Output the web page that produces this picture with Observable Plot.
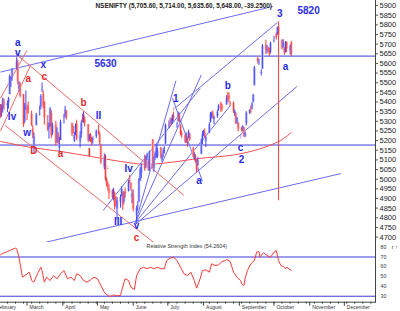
<!DOCTYPE html>
<html><head><meta charset="utf-8">
<script src="https://cdn.jsdelivr.net/npm/d3@7"></script>
<script src="https://cdn.jsdelivr.net/npm/@observablehq/plot@0.6"></script>
<style>
body{margin:0;background:#fff}
#wrap{position:relative;width:400px;height:311px;overflow:hidden;background:#fff}
#wrap svg{position:absolute;left:0}
</style></head><body><div id="wrap"></div>
<script>
// ---------- price data (NSE Nifty, daily) ----------
const days = [
"2012-02-06","2012-02-07","2012-02-08","2012-02-09","2012-02-10","2012-02-13","2012-02-14","2012-02-15","2012-02-16","2012-02-17","2012-02-21","2012-02-22","2012-02-23","2012-02-24","2012-02-27","2012-02-28","2012-02-29",
"2012-03-01","2012-03-02","2012-03-05","2012-03-06","2012-03-07","2012-03-09","2012-03-12","2012-03-13","2012-03-14","2012-03-15","2012-03-16","2012-03-19","2012-03-20","2012-03-21","2012-03-22","2012-03-23","2012-03-26","2012-03-27","2012-03-28","2012-03-29","2012-03-30",
"2012-04-02","2012-04-03","2012-04-04","2012-04-09","2012-04-10","2012-04-11","2012-04-12","2012-04-13","2012-04-16","2012-04-17","2012-04-18","2012-04-19","2012-04-20","2012-04-23","2012-04-24","2012-04-25","2012-04-26","2012-04-27","2012-04-30",
"2012-05-02","2012-05-03","2012-05-04","2012-05-07","2012-05-08","2012-05-09","2012-05-10","2012-05-11","2012-05-14","2012-05-15","2012-05-16","2012-05-17","2012-05-18","2012-05-21","2012-05-22","2012-05-23","2012-05-24","2012-05-25","2012-05-28","2012-05-29","2012-05-30","2012-05-31",
"2012-06-01","2012-06-04","2012-06-05","2012-06-06","2012-06-07","2012-06-08","2012-06-11","2012-06-12","2012-06-13","2012-06-14","2012-06-15","2012-06-18","2012-06-19","2012-06-20","2012-06-21","2012-06-22","2012-06-25","2012-06-26","2012-06-27","2012-06-28","2012-06-29",
"2012-07-02","2012-07-03","2012-07-04","2012-07-05","2012-07-06","2012-07-09","2012-07-10","2012-07-11","2012-07-12","2012-07-13","2012-07-16","2012-07-17","2012-07-18","2012-07-19","2012-07-20","2012-07-23","2012-07-24","2012-07-25","2012-07-26","2012-07-27","2012-07-30","2012-07-31",
"2012-08-01","2012-08-02","2012-08-03","2012-08-06","2012-08-07","2012-08-08","2012-08-09","2012-08-10","2012-08-13","2012-08-14","2012-08-16","2012-08-17","2012-08-21","2012-08-22","2012-08-23","2012-08-24","2012-08-27","2012-08-28","2012-08-29","2012-08-30","2012-08-31",
"2012-09-03","2012-09-04","2012-09-05","2012-09-06","2012-09-07","2012-09-10","2012-09-11","2012-09-12","2012-09-13","2012-09-14","2012-09-17","2012-09-18","2012-09-20","2012-09-21","2012-09-24","2012-09-25","2012-09-26","2012-09-27","2012-09-28",
"2012-10-01","2012-10-03","2012-10-04","2012-10-05","2012-10-08","2012-10-09","2012-10-10","2012-10-11","2012-10-12","2012-10-15","2012-10-16"];
const opens = [
5325,5370,5354,5363,5399,5382,5395,5438,5516,5540,5566,5600,5470,5498,5439,5300,5385,
5361,5373,5335,5260,5170,5277,5357,5372,5461,5440,5399,5290,5260,5275,5340,5235,5281,5203,5230,5160,5200,
5317,5325,5355,5290,5248,5198,5230,5287,5194,5231,5310,5300,5307,5283,5211,5229,5204,5201,5220,
5251,5233,5171,5060,5116,4995,4976,4947,4939,4900,4918,4879,4845,4880,4926,4930,4885,4933,4937,4995,4979,4905,
4917,4810,4859,4883,4988,5028,5104,5065,5109,5090,5040,5205,5054,5112,5118,5115,5161,5096,5130,5148,5181,
5276,5290,5297,5304,5327,5274,5298,5332,5278,5240,5226,5188,5210,5212,5232,5160,5109,5117,5101,5070,5130,5200,
5232,5240,5194,5240,5295,5326,5341,5308,5325,5360,5395,5376,5386,5424,5432,5390,5394,5340,5339,5290,5291,
5261,5253,5266,5222,5286,5342,5369,5370,5400,5484,5624,5598,5547,5570,5693,5668,5667,5663,5659,
5716,5750,5752,5789,5720,5684,5680,5664,5710,5667,5706];
const highs = [
5414,5387,5385,5420,5416,5405,5424,5541,5532,5574,5630,5618,5506,5500,5439,5392,5458,
5384,5400,5353,5279,5240,5341,5379,5438,5499,5458,5402,5330,5290,5371,5354,5290,5300,5266,5240,5217,5306,
5335,5378,5355,5290,5275,5242,5286,5306,5245,5302,5337,5349,5323,5283,5232,5236,5217,5219,5255,
5279,5243,5182,5131,5126,5009,4986,4970,4946,4953,4932,4911,4905,4919,4961,4935,4935,4954,4994,5020,4980,4946,
4944,4860,4883,5005,5059,5078,5125,5120,5135,5100,5146,5205,5116,5142,5180,5160,5164,5130,5160,5168,5286,
5302,5317,5314,5334,5348,5294,5348,5340,5282,5249,5230,5240,5218,5254,5238,5166,5137,5126,5102,5112,5208,5248,
5254,5260,5223,5292,5346,5348,5354,5328,5358,5385,5399,5386,5433,5448,5448,5402,5400,5359,5345,5320,5293,
5269,5277,5268,5244,5350,5360,5378,5397,5440,5585,5632,5621,5567,5698,5720,5694,5684,5679,5710,
5741,5758,5788,5815,5722,5723,5680,5713,5711,5696,5714];
const lows = [
5325,5316,5322,5342,5357,5345,5363,5438,5476,5507,5565,5488,5453,5421,5268,5290,5358,
5304,5337,5273,5210,5135,5277,5327,5360,5450,5365,5280,5246,5208,5270,5210,5225,5172,5185,5180,5135,5200,
5286,5316,5306,5220,5236,5190,5225,5200,5162,5212,5290,5290,5270,5189,5195,5190,5172,5181,5211,
5229,5176,5075,5048,4989,4959,4940,4895,4895,4887,4840,4856,4788,4850,4908,4838,4871,4901,4934,4976,4939,4872,
4830,4770,4835,4878,4988,5004,5041,5055,5097,5044,5040,5054,5034,5098,5108,5106,5105,5086,5112,5132,5181,
5261,5269,5282,5285,5300,5264,5296,5291,5225,5212,5185,5186,5165,5210,5195,5111,5100,5085,5032,5065,5127,5179,
5222,5210,5164,5236,5290,5313,5312,5282,5315,5352,5345,5351,5383,5400,5395,5375,5340,5325,5283,5285,5245,
5245,5245,5216,5215,5276,5335,5340,5358,5395,5484,5597,5589,5535,5570,5646,5650,5658,5635,5649,
5706,5721,5745,4888,5669,5678,5641,5654,5656,5643,5636];
const closes = [
5361,5335,5368,5412,5381,5390,5416,5532,5521,5564,5607,5505,5483,5429,5281,5375,5385,
5339,5359,5280,5222,5220,5333,5359,5429,5463,5380,5317,5257,5274,5364,5228,5278,5184,5243,5194,5178,5295,
5318,5358,5322,5234,5243,5227,5276,5207,5226,5289,5300,5332,5290,5200,5222,5202,5189,5209,5248,
5239,5188,5087,5114,4999,4974,4965,4928,4907,4942,4858,4870,4891,4906,4947,4861,4921,4920,4985,4990,4950,4924,
4842,4848,4863,4997,5049,5068,5054,5115,5121,5054,5139,5064,5103,5120,5165,5146,5114,5121,5149,5149,5279,
5278,5287,5302,5327,5316,5275,5345,5306,5236,5227,5197,5216,5192,5242,5205,5117,5128,5110,5043,5100,5199,5229,
5240,5227,5215,5282,5336,5338,5322,5320,5347,5380,5362,5366,5421,5413,5415,5386,5350,5350,5287,5315,5258,
5254,5274,5225,5238,5342,5358,5363,5390,5435,5577,5610,5600,5554,5691,5669,5673,5663,5649,5703,
5718,5731,5787,5747,5676,5705,5652,5708,5676,5687,5648];

// moving average (red curve)
const maDates  = ["2012-02-07","2012-03-04","2012-03-30","2012-04-25","2012-05-21","2012-06-12","2012-07-03","2012-07-29","2012-08-24","2012-09-11","2012-09-25","2012-10-07","2012-10-16"];
const maValues = [5196,5165,5144,5118,5092,5077,5087,5108,5123,5144,5170,5201,5242];

// horizontal levels
const levels = [5638, 5177];

// trend lines [start date, start price, end date, end price]
const blueTrend = [
  ["2012-02-07",5555,"2012-09-30",5895],
  ["2012-03-17",4673,"2012-11-28",5029],
  ["2012-06-03",4766,"2012-10-21",5481],
  ["2012-06-03",4776,"2012-07-08",5510],
  ["2012-06-03",4776,"2012-07-30",5540],
  ["2012-06-03",4776,"2012-08-24",5380],
  ["2012-05-06",4838,"2012-07-29",5470],
  ["2012-07-07",5367,"2012-10-04",5812],
  ["2012-07-05",5420,"2012-07-31",4990]
];
const redTrend = [
  ["2012-02-20",5651,"2012-07-15",4916],
  ["2012-02-11",5279,"2012-06-22",4657],
  ["2012-02-07",5420,"2012-03-01",5668],
  ["2012-02-07",5250,"2012-03-04",5590]
];

// wave labels
const blueText  = ["a","v","x","5630","II","Iv","w","Iv","III","v","1","a","b","c","2","3","5820","a"];
const blueDates = ["2012-02-22","2012-02-22","2012-03-15","2012-05-08","2012-05-02","2012-02-17","2012-03-01","2012-05-28","2012-05-19","2012-06-04","2012-07-08","2012-07-28","2012-08-22","2012-09-02","2012-09-03","2012-10-06","2012-10-31","2012-10-11"];
const bluePrices= [5708,5657,5593,5600,5330,5322,5241,5056,4778,4756,5417,4994,5486,5165,5103,5857,5871,5581];
const redText   = ["a","c","b","D","a","I","c"];
const redDates  = ["2012-03-02","2012-03-16","2012-04-19","2012-03-07","2012-03-30","2012-04-24","2012-06-04"];
const redPrices = [5520,5529,5394,5149,5132,5135,4697];
// small pivot arrows
const upArrowDates  = ["2012-07-27","2012-09-02"];
const upArrowPrices = [5052,5218];
const dnArrowDates  = ["2012-07-06","2012-05-10"];
const dnArrowPrices = [5367,5066];

// RSI
const rsiDates = ["2012-02-07","2012-02-10","2012-02-13","2012-02-17","2012-02-20","2012-02-21","2012-02-23","2012-02-26","2012-02-29","2012-03-03","2012-03-05","2012-03-07","2012-03-10","2012-03-13","2012-03-14","2012-03-16","2012-03-18","2012-03-21","2012-03-24","2012-03-27","2012-03-30","2012-04-02","2012-04-05","2012-04-08","2012-04-11","2012-04-13","2012-04-16","2012-04-19","2012-04-22","2012-04-25","2012-04-28","2012-05-01","2012-05-04","2012-05-07","2012-05-09","2012-05-12","2012-05-15","2012-05-18","2012-05-21","2012-05-22","2012-05-25","2012-05-28","2012-05-30","2012-06-02","2012-06-04","2012-06-07","2012-06-10","2012-06-13","2012-06-16","2012-06-19","2012-06-22","2012-06-25","2012-06-28","2012-06-30","2012-07-03","2012-07-06","2012-07-09","2012-07-12","2012-07-15","2012-07-18","2012-07-21","2012-07-24","2012-07-26","2012-07-29","2012-07-31","2012-08-03","2012-08-06","2012-08-08","2012-08-11","2012-08-14","2012-08-17","2012-08-20","2012-08-21","2012-08-24","2012-08-27","2012-08-30","2012-09-02","2012-09-03","2012-09-05","2012-09-06","2012-09-08","2012-09-11","2012-09-14","2012-09-16","2012-09-18","2012-09-19","2012-09-21","2012-09-22","2012-09-25","2012-09-28","2012-10-01","2012-10-03","2012-10-05","2012-10-07","2012-10-10","2012-10-11","2012-10-12","2012-10-16"];
const rsiValues = [72.2,74.3,75.6,77.7,79.0,78.4,69.8,49.4,51.8,54.5,46.0,44.3,52.9,59.6,56.2,44.3,49.4,46.0,51.1,47.8,52.9,56.2,47.8,49.4,46.0,52.9,51.1,46.0,44.3,46.7,49.4,47.8,40.9,34.1,31.4,29.7,31.4,30.4,30.7,35.8,47.8,46.0,39.2,36.8,51.1,58.0,59.6,58.0,59.6,58.0,59.6,58.0,58.0,66.4,68.8,69.8,66.4,59.6,52.9,51.1,54.5,46.0,38.2,47.8,56.2,56.9,54.5,63.1,61.3,62.0,65.4,66.4,67.4,65.4,54.5,49.4,46.0,42.7,40.9,48.4,56.2,63.1,66.4,74.9,75.6,69.8,73.3,74.3,71.5,69.8,74.9,76.6,66.4,61.3,59.6,58.0,59.6,56.2];
const rsiLevels = [70, 30];

// axis labels
const priceTicks = d3.range(4700, 5901, 50);
const rsiTicks = [30, 40, 50, 60, 70, 80];
const monthNames = ["February","March","April","May","June","July","August","September","October","November","December"];
const monthStarts = ["2012-02-01","2012-03-01","2012-04-01","2012-05-01","2012-06-01","2012-07-01","2012-08-01","2012-09-01","2012-10-01","2012-11-01","2012-12-01"];
const header = "NSENIFTY (5,705.60, 5,714.00, 5,635.60, 5,648.00, -39.2500)";
const rsiTitle = "Relative Strength Index (54.2604)";

// ---------- build ----------
const P = d => new Date(d + "T00:00Z");
const xDomain = [P("2012-02-07"), P("2012-12-28")];
const FONT = "'Liberation Sans', Arial, sans-serif";
const BLUE_T = "#2b2be6", RED_T = "#e62a2a";

const bars = days.map((d, i) => ({date: P(d), o: opens[i], h: highs[i], l: lows[i], c: closes[i], up: closes[i] >= opens[i]}));
const ma = maDates.map((d, i) => ({date: P(d), v: maValues[i]}));
const toLines = arr => arr.map(r => ({x1: P(r[0]), y1: r[1], x2: P(r[2]), y2: r[3]}));
const blueLab = blueText.map((t, i) => ({t, date: P(blueDates[i]), p: bluePrices[i]}));
const redLab = redText.map((t, i) => ({t, date: P(redDates[i]), p: redPrices[i]}));
const upArrows = upArrowDates.map((d, i) => ({date: P(d), p: upArrowPrices[i]}));
const dnArrows = dnArrowDates.map((d, i) => ({date: P(d), p: dnArrowPrices[i]}));
const rsi = rsiDates.map((d, i) => ({date: P(d), r: rsiValues[i]}));
const months = monthStarts.map((d, i) => ({date: P(d), name: monthNames[i]}));
const monthTicks = months.map(m => m.date).filter(d => d >= xDomain[0] && d <= xDomain[1]);
const weekTicks = d3.utcMonday.range(P("2012-02-07"), P("2012-12-28"));
const blank = () => "";

const main = Plot.plot({
  width: 400, height: 242,
  marginTop: 0, marginBottom: 0, marginLeft: 0, marginRight: 25,
  x: {type: "utc", domain: xDomain, axis: null},
  y: {domain: [4672, 5926], axis: null},
  style: {fontFamily: FONT, background: "transparent"},
  marks: [
    Plot.ruleY(levels, {stroke: "#3a3ad8", strokeWidth: 1}),
    Plot.link(toLines(blueTrend), {x1: "x1", y1: "y1", x2: "x2", y2: "y2", stroke: "#6b6bf0", strokeWidth: 1, clip: true}),
    Plot.link(toLines(redTrend), {x1: "x1", y1: "y1", x2: "x2", y2: "y2", stroke: "#f06a6a", strokeWidth: 1, clip: true}),
    Plot.line(ma, {x: "date", y: "v", stroke: "#f05050", strokeWidth: 1, curve: "catmull-rom"}),
    Plot.ruleX(bars, {x: "date", y1: "o", y2: "c", stroke: d => d.up ? "#b8bcff" : "#ffb8b8", strokeWidth: 2.6}),
    Plot.ruleX(bars, {x: "date", y1: "l", y2: "h", stroke: d => d.up ? "#4646ff" : "#ff3a3a", strokeWidth: 1}),
    Plot.text(upArrows, {x: "date", y: "p", text: () => "↑", fill: BLUE_T, fontSize: 6.5, fontWeight: "bold"}),
    Plot.text(dnArrows, {x: "date", y: "p", text: () => "↓", fill: RED_T, fontSize: 6.5, fontWeight: "bold"}),
    Plot.text(blueLab, {x: "date", y: "p", text: "t", fill: BLUE_T, fontSize: 10, fontWeight: "bold"}),
    Plot.text(redLab, {x: "date", y: "p", text: "t", fill: RED_T, fontSize: 10, fontWeight: "bold"}),
    Plot.text([header], {frameAnchor: "top-left", dx: 95, dy: 5.3, lineAnchor: "middle", textAnchor: "start", fontSize: 6.4, fontWeight: "bold", fill: "#222"}),
    Plot.axisY(priceTicks, {anchor: "right", tickSize: 2, tickPadding: 2, fontSize: 7.5, fill: "#222", stroke: "#555", tickFormat: d => String(d)}),
    Plot.frame({anchor: "right", stroke: "#444"}),
    Plot.frame({anchor: "bottom", stroke: "#444"})
  ]
});
main.style.top = "0px";

const lower = Plot.plot({
  width: 400, height: 69,
  marginTop: 0, marginBottom: 9.3, marginLeft: 0, marginRight: 25,
  x: {type: "utc", domain: xDomain, axis: null},
  y: {domain: [23.9, 84.8], axis: null},
  style: {fontFamily: FONT, background: "transparent"},
  marks: [
    Plot.ruleY(rsiLevels, {stroke: "#3a3ad8", strokeWidth: 1}),
    Plot.line(rsi, {x: "date", y: "r", stroke: "#ff3a3a", strokeWidth: 1}),
    Plot.text([rsiTitle], {frameAnchor: "top-left", dx: 146, dy: 3.6, lineAnchor: "middle", textAnchor: "start", fontSize: 5.4, fill: "#333"}),
    Plot.axisY(rsiTicks, {anchor: "right", tickSize: 0, tickPadding: 5, fontSize: 5.2, fill: "#333", tickFormat: d => String(d)}),
    Plot.axisX(weekTicks, {anchor: "bottom", tickSize: 2, tickFormat: blank, stroke: "#444"}),
    Plot.axisX(monthTicks, {anchor: "bottom", tickSize: 4, tickFormat: blank, stroke: "#444"}),
    Plot.text(months, {x: "date", text: "name", frameAnchor: "bottom", dy: 5.2, dx: 2.5, textAnchor: "start", lineAnchor: "middle", fontSize: 5, fill: "#333"}),
    Plot.frame({anchor: "right", stroke: "#444"}),
    Plot.frame({anchor: "bottom", stroke: "#444"})
  ]
});
lower.style.top = "242px";

const wrap = document.getElementById("wrap");
wrap.appendChild(main);
wrap.appendChild(lower);
</script></body></html>
